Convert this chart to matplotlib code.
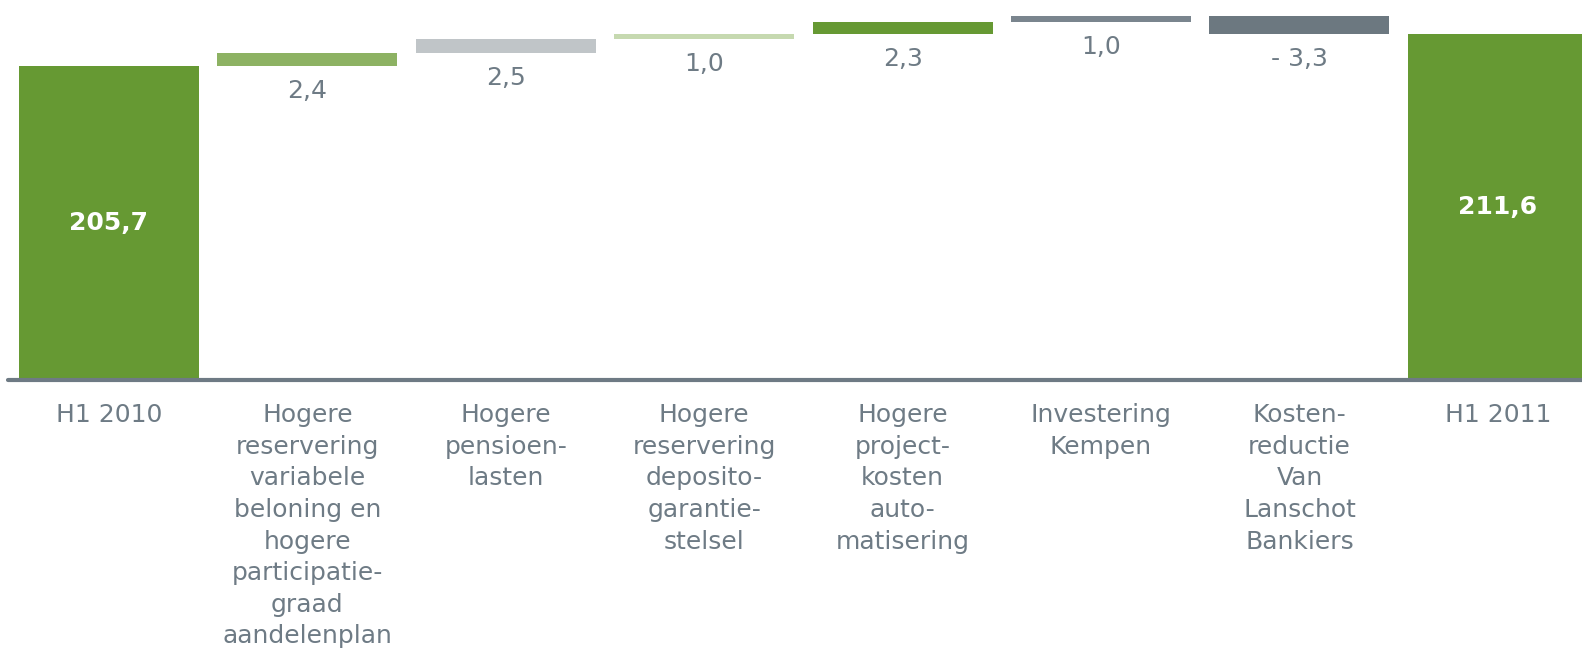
import matplotlib.pyplot as plt

plt.rcParams['font.family'] = ['DejaVu Sans']

categorieen = ["H1 2010",
               "Hogere\nreservering\nvariabele\nbeloning en\nhogere\nparticipatie-\ngraad\naandelenplan",
               "Hogere\npensioen-\nlasten",
               "Hogere\nreservering\ndeposito-\ngarantie-\nstelsel",
               "Hogere\nproject-\nkosten\nauto-\nmatisering",
               "Investering\nKempen",
               "Kosten-\nreductie\nVan\nLanschot\nBankiers",
               "H1 2011"]
start = 205.7
mutaties = [2.4, 2.5, 1.0, 2.3, 1.0, -3.3]
eind = 211.6
kleuren = ["#669933", "#8db263", "#c0c5c8", "#c6d9b0", "#669933",
           "#7a858e", "#6c7880", "#669933"]
tekstkleur = "#6e7b85"

# waterval: bodem en hoogte per balk
bodems = [0]
hoogtes = [start]
niveau = start
for m in mutaties:
    bodems.append(min(niveau, niveau + m))
    hoogtes.append(abs(m))
    niveau += m
bodems.append(0)
hoogtes.append(eind)

fig = plt.figure(figsize=(15.82, 6.54), dpi=100)
ax = fig.add_axes([0, 0.4197, 1, 0.5803])
x = list(range(len(categorieen)))
ax.bar(x, hoogtes, bottom=bodems, width=0.907, color=kleuren, zorder=2)

ax.set_ylim(147.86, 217.87)
ax.set_xlim(-0.549, 7.424)
ax.plot([-0.51, 8], [147.86, 147.86], color="#6e7a84", lw=3,
        solid_capstyle="round", clip_on=False, zorder=3)

for s in ax.spines.values():
    s.set_visible(False)
ax.set_yticks([])
ax.set_xticks(x)
ax.set_xticklabels(categorieen, fontsize=18, color=tekstkleur, linespacing=1.40)
ax.tick_params(axis="x", length=0, pad=17)

# totalen in de balk
for i, v in [(0, start), (7, eind)]:
    ax.text(i, (ax.get_ylim()[0] + v) / 2, f"{v:.1f}".replace(".", ","),
            ha="center", va="center", color="white", fontsize=18, fontweight="bold")

# mutaties onder de balk
for i, m in enumerate(mutaties, start=1):
    label = f"{abs(m):.1f}".replace(".", ",")
    if m < 0:
        label = "- " + label
    ax.annotate(label, (i, bodems[i]), xytext=(0, -18), textcoords="offset points",
                ha="center", va="center", color=tekstkleur, fontsize=18)

plt.savefig("out.png", dpi=100)
